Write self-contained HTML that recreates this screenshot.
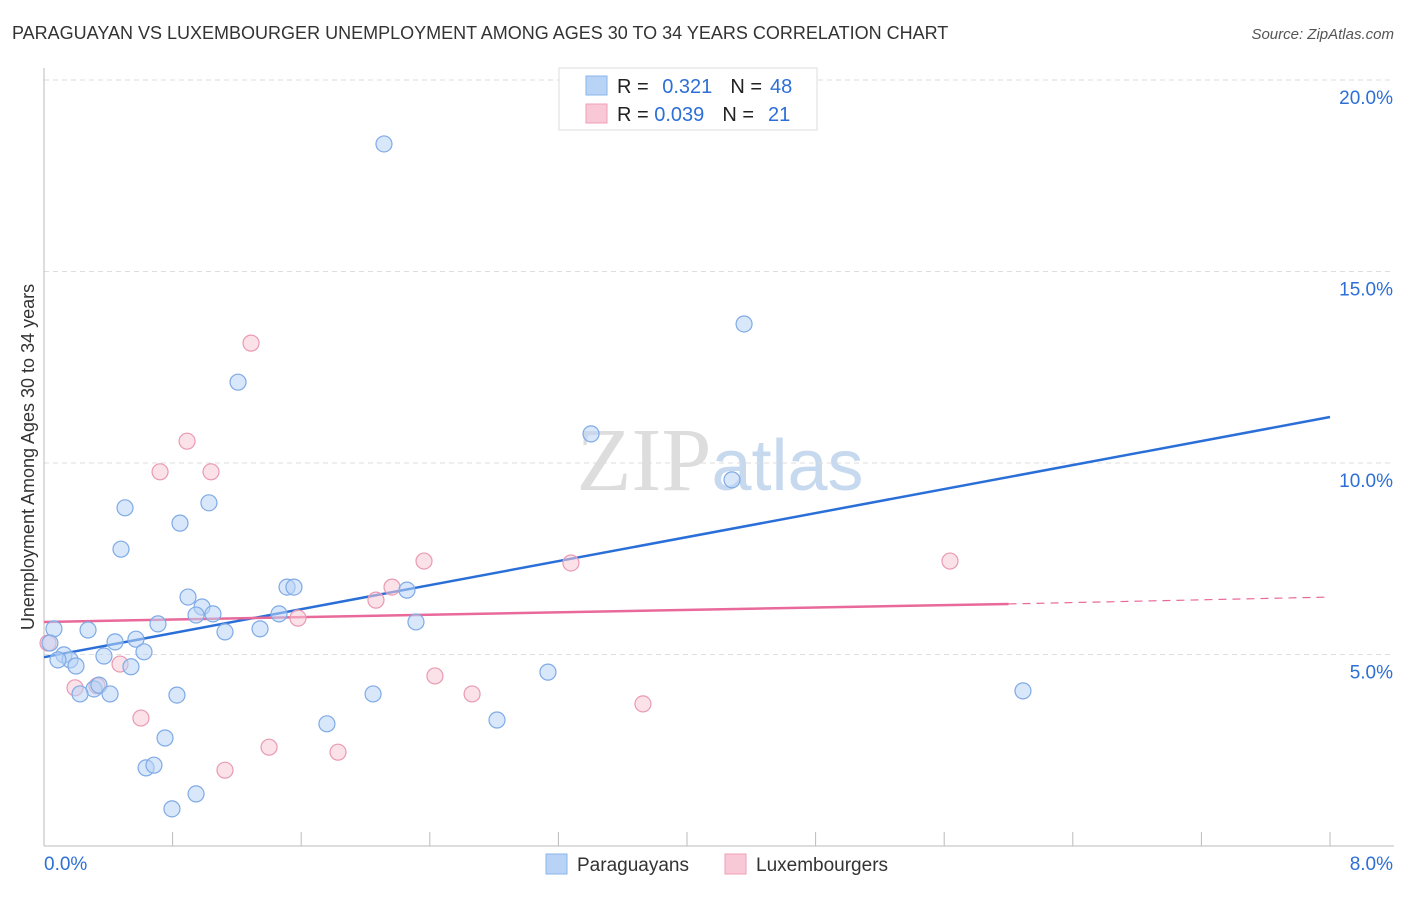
<!DOCTYPE html>
<html><head><meta charset="utf-8"><style>
body{margin:0;background:#fff;font-family:"Liberation Sans",sans-serif;}
</style></head><body>
<svg id="chart" width="1406" height="892" xmlns="http://www.w3.org/2000/svg">
<text x="12" y="39" font-size="18" fill="#333">PARAGUAYAN VS LUXEMBOURGER UNEMPLOYMENT AMONG AGES 30 TO 34 YEARS CORRELATION CHART</text>
<text x="1394" y="39" font-size="15" fill="#555" font-style="italic" text-anchor="end">Source: ZipAtlas.com</text>
<text x="720" y="490" font-size="90" fill="#ddd" text-anchor="middle" font-family="Liberation Serif,serif">ZIP<tspan fill="#c7d9ee" font-family="Liberation Sans,sans-serif" font-size="72">atlas</tspan></text>
<text transform="translate(34,457) rotate(-90)" font-size="18" fill="#333" text-anchor="middle">Unemployment Among Ages 30 to 34 years</text>
<g id="grid"></g><g id="axes"></g><g id="lines"></g><g id="pts"></g>
<g>
<rect x="559" y="68" width="258" height="62" fill="#fff" stroke="#ddd"/>
<rect x="586" y="76" width="21" height="19" fill="#b8d3f5" stroke="#8ab4ea"/>
<rect x="586" y="104" width="21" height="19" fill="#f8c8d6" stroke="#ee9fb6"/>
<text x="617" y="93" font-size="20" fill="#222">R = <tspan fill="#2d6fd6" dx="8">0.321</tspan><tspan dx="18" fill="#222">N =</tspan><tspan fill="#2d6fd6" dx="8">48</tspan></text>
<text x="617" y="121" font-size="20" fill="#222">R = <tspan fill="#2d6fd6">0.039</tspan><tspan dx="18" fill="#222">N =</tspan><tspan fill="#2d6fd6" dx="14">21</tspan></text>
</g>
<g>
<rect x="546" y="854" width="21" height="20" fill="#b8d3f5" stroke="#8ab4ea"/>
<text x="577" y="871" font-size="19" fill="#333">Paraguayans</text>
<rect x="725" y="854" width="21" height="20" fill="#f8c8d6" stroke="#ee9fb6"/>
<text x="756" y="871" font-size="19" fill="#333">Luxembourgers</text>
</g>
</svg>
<script>
const blueX=[2.115,4.355,1.207,3.403,4.28,0.504,1.026,0.846,0.479,0.896,0.983,0.946,1.051,0.709,0.572,0.442,0.274,0.062,1.126,1.344,1.462,1.512,1.555,2.258,2.314,0.622,0.373,0.541,0.124,0.162,0.199,0.087,0.037,0.311,0.342,0.224,0.411,0.827,2.047,3.135,6.09,0.753,1.76,2.818,0.635,0.684,0.946,0.796];
const blueY=[18.33,13.63,12.11,10.76,9.56,8.83,8.96,8.43,7.75,6.5,6.24,6.03,6.06,5.8,5.4,5.33,5.64,5.67,5.59,5.67,6.06,6.76,6.76,6.68,5.85,5.07,4.96,4.68,4.99,4.86,4.7,4.86,5.3,4.1,4.2,3.97,3.97,3.94,3.97,4.54,4.05,2.82,3.19,3.29,2.04,2.11,1.36,0.97];
const pinkX=[1.288,0.89,0.722,1.039,2.364,3.278,5.636,2.165,2.065,1.58,0.025,0.473,0.193,0.33,2.432,2.663,3.726,0.603,1.4,1.829,1.126];
const pinkY=[13.13,10.57,9.77,9.77,7.44,7.39,7.44,6.76,6.42,5.95,5.3,4.75,4.13,4.18,4.44,3.97,3.71,3.34,2.58,2.45,1.98];
const yTicks=[5,10,15,20];
const yTickLabels=["5.0%","10.0%","15.0%","20.0%"];
const xTicks=[0,0.8,1.6,2.4,3.2,4.0,4.8,5.6,6.4,7.2,8.0];
const blueTrend=[4.93,11.2];
const pinkTrend=[5.85,6.32,6.5];
const pinkSolidEnd=6.0;
const NS="http://www.w3.org/2000/svg";
const sx=v=>44+v*160.75, sy=v=>846-v*38.3;
function mk(t,a,p){const e=document.createElementNS(NS,t);for(const k in a)e.setAttribute(k,a[k]);p.appendChild(e);return e;}
const grid=document.getElementById('grid'),axes=document.getElementById('axes'),lines=document.getElementById('lines'),pts=document.getElementById('pts');
yTicks.forEach((v,i)=>{
 const l=mk('line',{x1:44,x2:1394,y1:sy(v),y2:sy(v),stroke:'#ddd','stroke-dasharray':'5,4'},grid);
 
 
 const t=mk('text',{x:1393,y:sy(v)+24,'font-size':19,fill:'#2d6fd6','text-anchor':'end'},grid);
 t.textContent=yTickLabels[i];
 
 
});
const ax=mk('line',{x1:44,x2:44,y1:68,y2:846,stroke:'#bbb'},axes);


const bx=mk('line',{x1:44,x2:1394,y1:846,y2:846,stroke:'#bbb'},axes);


xTicks.forEach(v=>{
 const t=mk('line',{x1:sx(v),x2:sx(v),y1:832,y2:846,stroke:'#bbb'},axes);
 
 
});
const xl0=mk('text',{x:44,y:870,'font-size':19,fill:'#2d6fd6'},axes);xl0.textContent='0.0%';


const xl1=mk('text',{x:1393,y:870,'font-size':19,fill:'#2d6fd6','text-anchor':'end'},axes);xl1.textContent='8.0%';


function dots(X,Y,fill,stroke,name){X.forEach((x,i)=>{
 const c=mk('circle',{cx:sx(x),cy:sy(Y[i]),r:8,fill:fill,'fill-opacity':0.55,stroke:stroke,'stroke-width':1.2},pts);
 
 
});}
dots(pinkX,pinkY,'#f8c8d6','#e99ab2','luxembourger-point');
dots(blueX,blueY,'#b8d3f5','#7faae6','paraguayan-point');
const bl=mk('line',{x1:sx(0),y1:sy(blueTrend[0]),x2:sx(8),y2:sy(blueTrend[1]),stroke:'#2a6fd8','stroke-width':2.5},lines);


const pl=mk('line',{x1:sx(0),y1:sy(pinkTrend[0]),x2:sx(pinkSolidEnd),y2:sy(pinkTrend[1]),stroke:'#e8699a','stroke-width':2.5},lines);


const pd=mk('line',{x1:sx(pinkSolidEnd),y1:sy(pinkTrend[1]),x2:sx(8),y2:sy(pinkTrend[2]),stroke:'#e8699a','stroke-width':1.2,'stroke-dasharray':'8,6'},lines);


</script>
</body></html>
